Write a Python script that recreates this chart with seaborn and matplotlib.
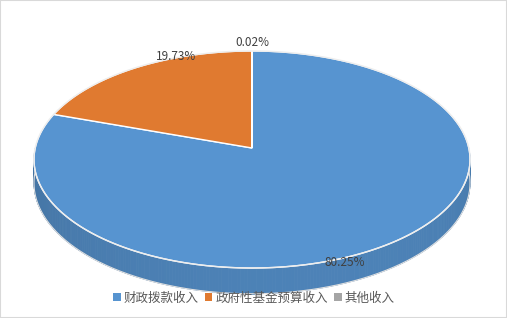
import numpy as np
import matplotlib
matplotlib.use("Agg")
import matplotlib.pyplot as plt
import seaborn as sns
from matplotlib.patches import Patch, Rectangle
import matplotlib.colors as mcolors

# ---- data ----
categories = ["财政拨款收入", "政府性基金预算收入", "其他收入"]
values = [80.25, 19.73, 0.02]
pct_labels = ["80.25%", "19.73%", "0.02%"]

# ---- style / layout ----
colors = ["#5794D0", "#E07A30", "#A5A5A5"]
label_pos = [(345, 262), (176, 57), (252, 43)]

sns.set_theme(style="white")
plt.rcParams['font.family'] = ['Noto Sans CJK SC', 'DejaVu Sans']

W, H = 507, 318
fig = plt.figure(figsize=(W / 100, H / 100), dpi=100)
ax = fig.add_axes([0, 0, 1, 1])
ax.set_xlim(0, W)
ax.set_ylim(H, 0)
ax.axis('off')

cx, cy = 252, 148
RX, RY, K, D = 216.8, 107.3, 0.106, 23


def proj(t):
    s = 1.0 / (1.0 + K * np.sin(t))
    return cx + RX * np.cos(t) * s, cy - RY * np.sin(t) * s, s


fr = np.array(values) / np.sum(values)
cum = np.concatenate([[0], np.cumsum(fr)])
start = np.pi / 2
bounds = [(start - 2 * np.pi * cum[i], start - 2 * np.pi * cum[i + 1]) for i in range(len(values))]


def owner(t):
    for i, (a0, a1) in enumerate(bounds):
        tt = t
        while tt > a0:
            tt -= 2 * np.pi
        while tt <= a0 - 2 * np.pi:
            tt += 2 * np.pi
        if a1 <= tt <= a0:
            return i
    return 0


# side wall (front half)
ts = np.linspace(np.pi, 2 * np.pi, 240)
for i in range(len(ts) - 1):
    t0, t1 = ts[i], ts[i + 1]
    x0, y0, s0 = proj(t0)
    x1, y1, s1 = proj(t1)
    tm = 0.5 * (t0 + t1)
    c = np.array(mcolors.to_rgb(colors[owner(tm)]))
    f = 0.80 + 0.08 * np.cos(tm - 1.6 * np.pi)
    cc = np.clip(c * f, 0, 1)
    ax.fill([x0, x1, x1, x0], [y0, y1, y1 + D * s1, y0 + D * s0],
            color=cc, lw=0.6, ec=cc, zorder=1)

# side outline
xb, yb, sb = proj(ts)
ax.plot(xb, yb + D * sb, color="#E0E0E0", lw=0.8, zorder=2)
xl, yl, sl = proj(np.array([np.pi]))
ax.plot([xl[0], xl[0]], [yl[0], yl[0] + D * sl[0]], color="#E0E0E0", lw=0.8, zorder=2)

# top face wedges
for i, (a0, a1) in enumerate(bounds):
    n = max(3, int(abs(a0 - a1) / (2 * np.pi) * 400))
    tt = np.linspace(a0, a1, n)
    x, y, _ = proj(tt)
    xs = np.concatenate([[cx], x])
    ys = np.concatenate([[cy], y])
    ax.fill(xs, ys, color=colors[i], ec="white", lw=1.0, zorder=3)

# top rim
ta = np.linspace(0, 2 * np.pi, 400)
xa, ya, _ = proj(ta)
ax.plot(xa, ya, color="#EDEDED", lw=1.0, zorder=4)

# labels
for lab, (lx, ly) in zip(pct_labels, label_pos):
    ax.text(lx, ly, lab, ha='center', va='center', fontsize=8.5,
            color="#404040", zorder=5)

# legend
handles = [Patch(facecolor=c, edgecolor='none') for c in colors]
leg = fig.legend(handles, categories, loc='center',
                 bbox_to_anchor=(254 / W, 1 - 298 / H), ncol=3, frameon=False,
                 fontsize=9, handlelength=0.6, handleheight=0.6,
                 handletextpad=0.25, columnspacing=0.5, labelcolor="#595959")

# figure border
fig.patches.append(Rectangle((0, 0), 1, 1, transform=fig.transFigure,
                             fill=False, ec="#D9D9D9", lw=1.5))

fig.savefig("out.png", dpi=100)
